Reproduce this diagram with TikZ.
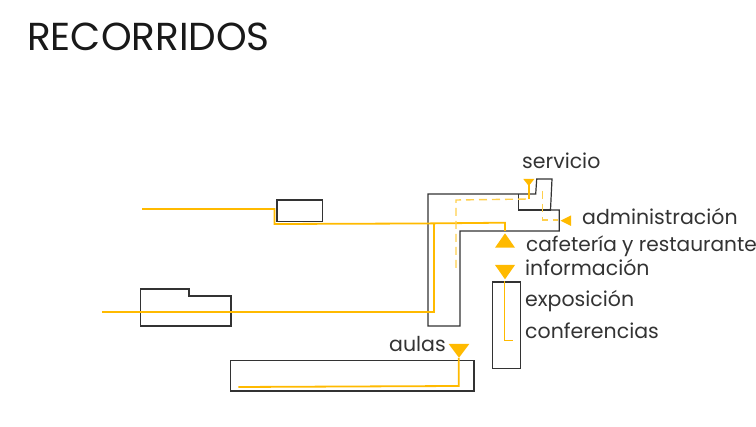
\documentclass[tikz,border=0pt]{standalone}
\usepackage{fontspec}
\setmainfont{Poppins}[Scale=1]
\tikzset{
  px/.style={x=1pt,y=-1pt},
  outline/.style={draw=black!80,line width=1.2pt,line join=miter},
  route/.style={draw=routeyellow,line width=1.8pt},
  routedash/.style={draw=routeyellow!70,line width=1.4pt,dash pattern=on 8pt off 5pt},
  tip/.style={fill=routeyellow,draw=none},
  lab/.style={anchor=base west,inner sep=0pt,text=black!80,font=\fontsize{20.5}{24}\selectfont},
}
\definecolor{routeyellow}{HTML}{FFBA00}
\begin{document}
\begin{tikzpicture}[px]
\useasboundingbox (0,0) rectangle (756,427);
\node[anchor=base west,inner sep=0pt,text=black!90,font=\fontsize{39}{42}\selectfont] (title) at (27,50.5) {RECORRIDOS};
% outlines
\draw[outline] (277,200) rectangle (322.5,221.5);
\draw[outline] (140.5,289) -- (189,289) -- (189,296) -- (231,296) -- (231,326) -- (140.5,326) -- cycle;
\draw[outline] (428,194) -- (535.7,194) -- (536.7,179) -- (552,179) -- (550.5,210) -- (559.3,210) -- (559.3,231) -- (460,231) -- (460,326) -- (428,326) -- cycle;
\draw[outline] (518.7,194) -- (518.7,210) -- (550.5,210);
\draw[outline] (492.3,282) rectangle (520.5,368.3);
\draw[outline] (230.7,360.7) rectangle (474,391);
% routes
\draw[route] (142,209) -- (274.5,209) -- (274.5,224) -- (420,223.5) -- (505,222.7) -- (505,231);
\draw[route] (102,312) -- (434,312) -- (434,223);
\draw[route,line width=1.4pt] (504.5,281) -- (504.5,340.7) -- (513.3,340.7);
\draw[route] (458.7,358) -- (458.7,386) -- (238.3,387);
\draw[routedash] (456,268) -- (456,200) -- (529,199);
\draw[route,line width=1.4pt] (529,199) -- (529,185);
\draw[routedash] (542.7,191) -- (542.7,220) -- (558,220);
% triangles
\fill[tip] (523.3,179) -- (534.3,179) -- (528.8,186) -- cycle;
\fill[tip] (560.5,220.7) -- (571,215.5) -- (571,226) -- cycle;
\fill[tip] (495,247.7) -- (515,247.7) -- (505,233.3) -- cycle;
\fill[tip] (495,265) -- (515,265) -- (505,279.3) -- cycle;
\fill[tip] (448.7,344) -- (469.3,344) -- (459,357.7) -- cycle;
% labels
\node[lab] (servicio) at (522,169) {servicio};
\node[lab] (admin) at (582,225) {administración};
\node[lab,font=\fontsize{20.1}{24}\selectfont] (cafe) at (526,252) {cafetería y restaurante};
\node[lab] (info) at (525,276) {información};
\node[lab] (expo) at (525,307) {exposición};
\node[lab] (conf) at (525,339) {conferencias};
\node[lab] (aulas) at (389,352) {aulas};
\end{tikzpicture}
\end{document}
